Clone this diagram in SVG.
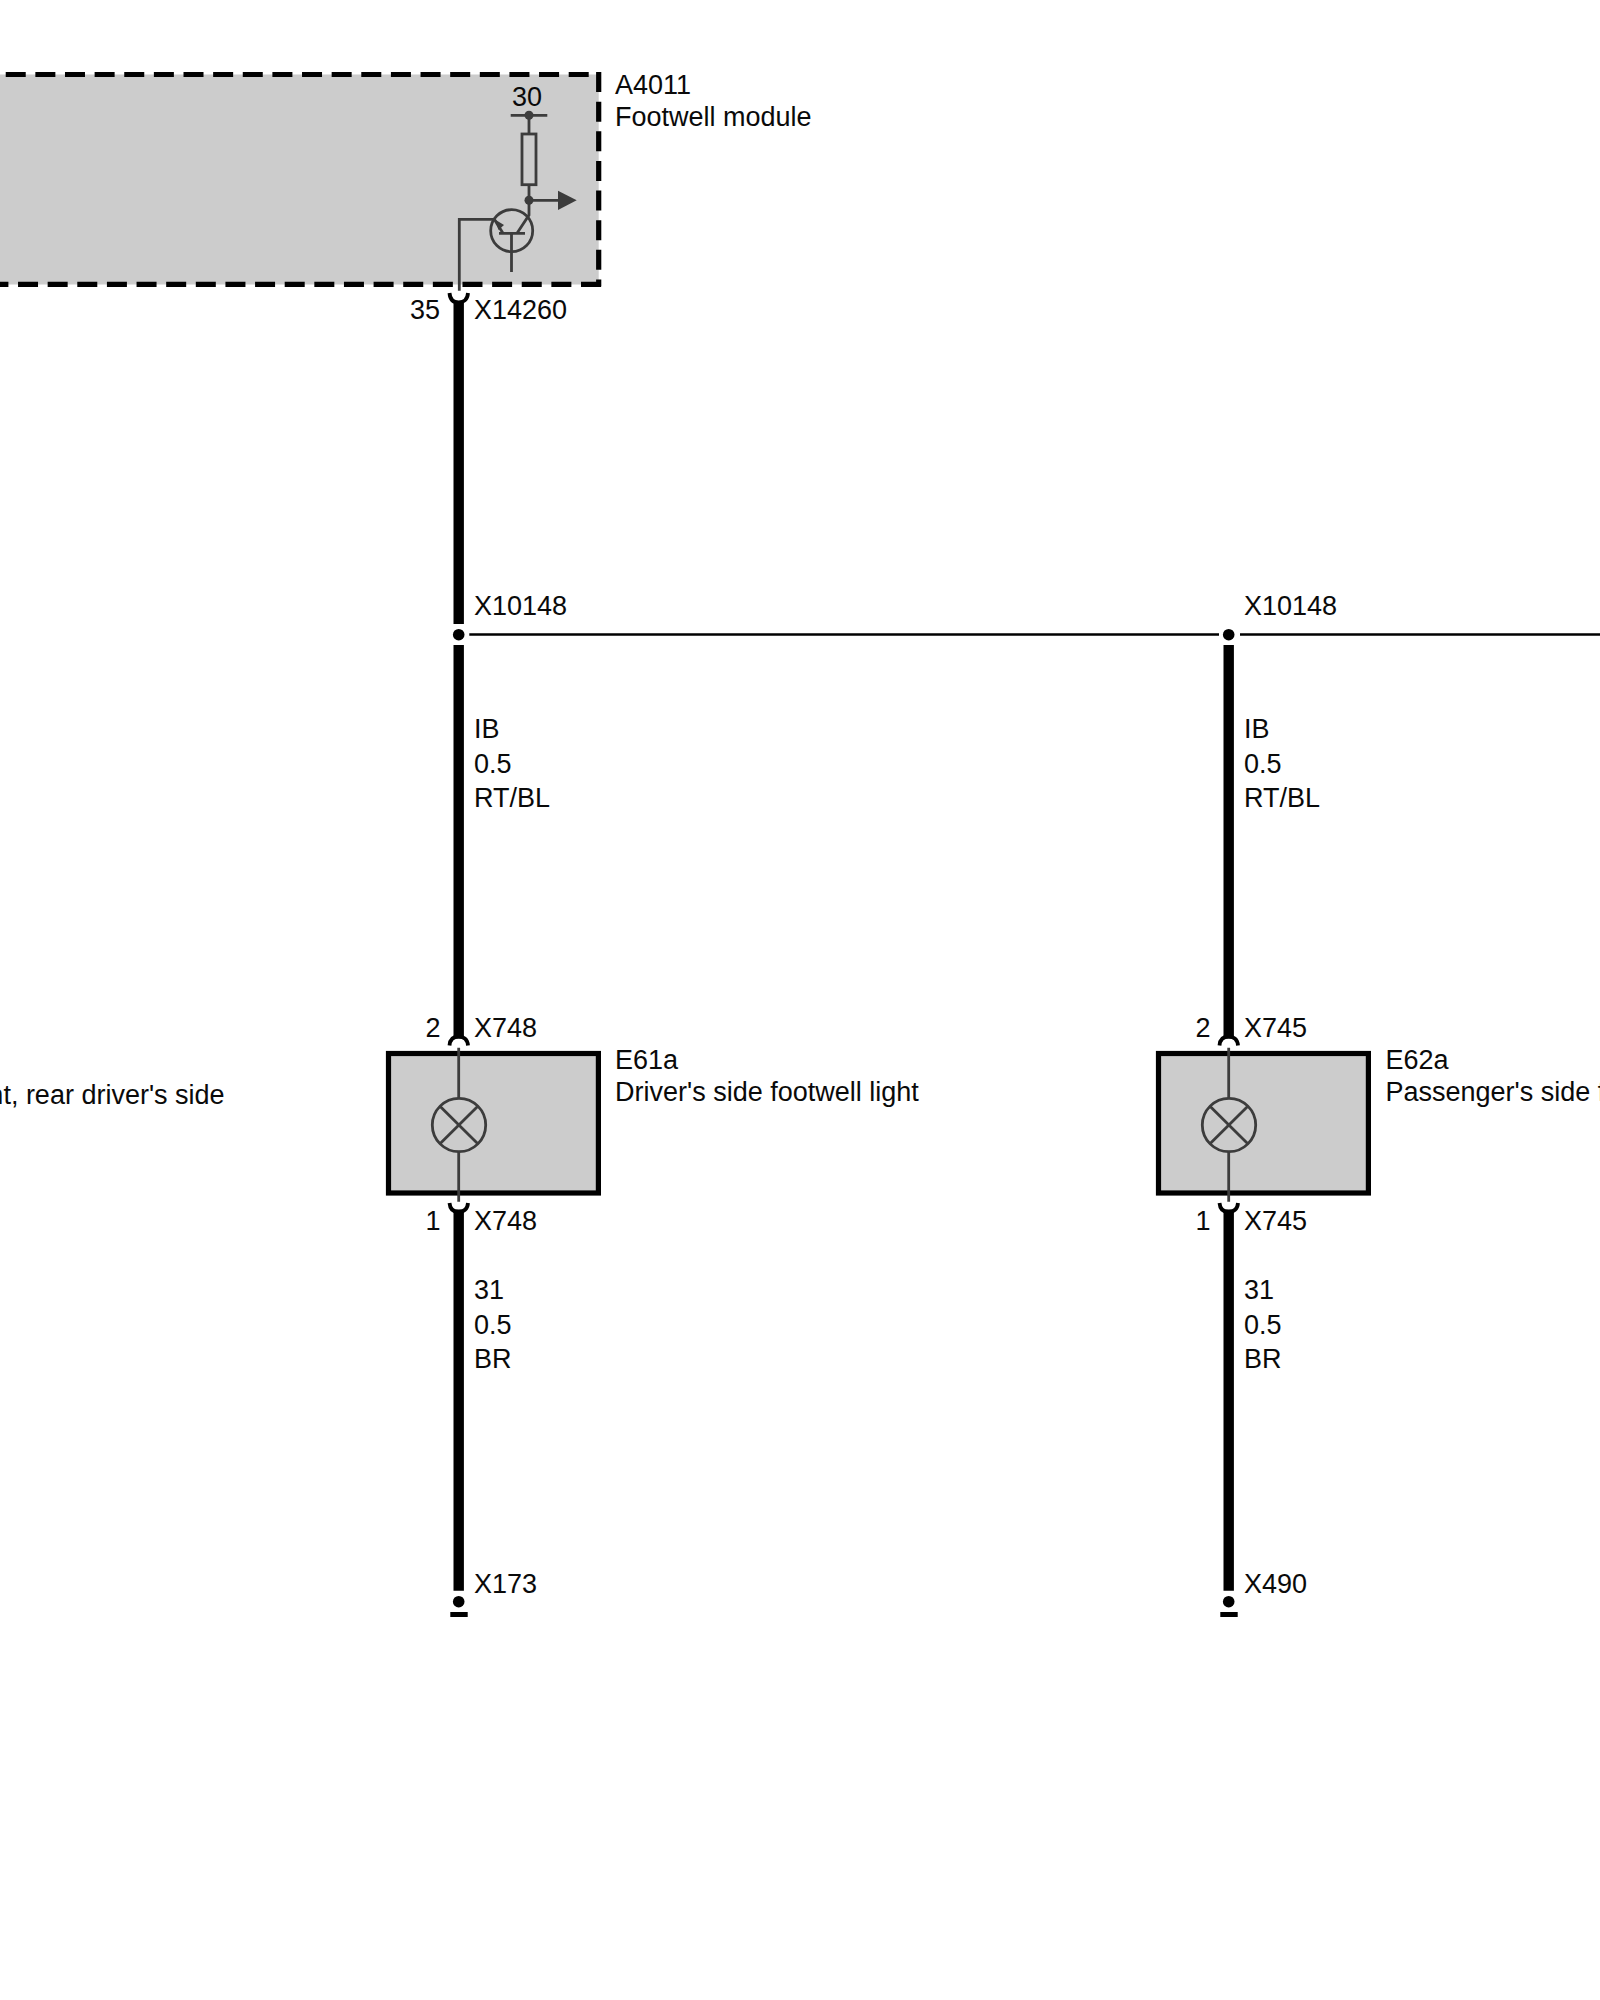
<svg xmlns="http://www.w3.org/2000/svg" width="1600" height="2000" viewBox="0 0 1600 2000">
<style>
text{font-family:"Liberation Sans",Arial,sans-serif;font-size:27px;fill:#0a0a0a}
.wire{stroke:#000;stroke-width:10.4;fill:none}
.cap{stroke:#000;stroke-width:3.8;fill:none}
.sym{stroke:#3c3c3c;stroke-width:2.8;fill:none}
.dashb{stroke:#000;stroke-width:5.2;stroke-dasharray:20 9.63;fill:none}
.box{fill:#ccc;stroke:#000;stroke-width:5.2}
.e{text-anchor:end}
</style>
<rect width="1600" height="2000" fill="#fff"/>
<g id="A4011">
<rect x="0" y="74.5" width="598.7" height="210" fill="#ccc"/>
<path class="dashb" d="M-23.9 74.5H601"/>
<path class="dashb" d="M598.7 72V286.5"/>
<path class="dashb" d="M601 284.3H0"/>
<path class="sym" d="M510.7 115.3H547.3M529 115.3V134M529 184.7V215L517 233.3M499 233.3H525M511.5 233.3V272M558 200.3H529M494.3 219.3H459.3V290.7"/>
<path class="sym" d="M494.3 219.3L503 233.3"/>
<rect class="sym" x="522" y="134" width="14" height="50.7"/>
<circle class="sym" cx="511.7" cy="230.7" r="21"/>
<circle cx="529" cy="115.3" r="4.5" fill="#3c3c3c"/>
<circle cx="529" cy="200.3" r="4.5" fill="#3c3c3c"/>
<path d="M558 190.7L576.7 200.3L558 210Z" fill="#3c3c3c"/>
<path d="M495 219.5L504 225L498.5 230Z" fill="#3c3c3c"/>
<text x="527" y="105.7" text-anchor="middle">30</text>
<text x="615" y="94.3">A4011</text>
<text x="615" y="126.3">Footwell module</text>
</g>
<g id="E61a">
<rect class="box" x="388.5" y="1053.5" width="209.9" height="139.5"/>
<path class="sym" d="M458.7 1047.7V1098.3M458.7 1151.7V1201.7M440 1106.2L477.8 1143.8M477.8 1106.2L440 1143.8"/>
<circle class="sym" cx="459" cy="1125" r="26.7"/>
<text x="615" y="1069.3">E61a</text>
<text x="615" y="1101">Driver's side footwell light</text>
</g>
<g id="E62a">
<rect class="box" x="1158.5" y="1053.5" width="209.9" height="139.5"/>
<path class="sym" d="M1228.7 1047.7V1098.3M1228.7 1151.7V1201.7M1210 1106.2L1247.8 1143.8M1247.8 1106.2L1210 1143.8"/>
<circle class="sym" cx="1229" cy="1125" r="26.7"/>
<text x="1385.5" y="1069.3">E62a</text>
<text x="1385.5" y="1101">Passenger's side f</text>
</g>
<g id="connectors">
<path class="wire" d="M458.7 301V624M458.7 645V1038.5M458.7 1209.5V1590.7"/>
<path class="wire" d="M1228.7 645V1038.5M1228.7 1209.5V1590.7"/>
<path d="M469.3 634.5H1219M1240 634.5H1600" stroke="#000" stroke-width="2.4" fill="none"/>
<path class="cap" d="M449.5 293C450 300 454 302.5 458.7 302.5C463 302.5 467.5 300 468 293"/>
<path class="cap" d="M449.5 1045.5C450 1039 454 1036.5 458.7 1036.5C463 1036.5 467.5 1039 468 1045.5"/>
<path class="cap" d="M449.5 1203C450 1209.5 454 1212 458.7 1212C463 1212 467.5 1209.5 468 1203"/>
<path class="cap" d="M1219.5 1045.5C1220 1039 1224 1036.5 1228.7 1036.5C1233 1036.5 1237.5 1039 1238 1045.5"/>
<path class="cap" d="M1219.5 1203C1220 1209.5 1224 1212 1228.7 1212C1233 1212 1237.5 1209.5 1238 1203"/>
<circle cx="458.7" cy="634.7" r="5.8"/>
<circle cx="1228.7" cy="634.7" r="5.8"/>
<circle cx="458.7" cy="1601.7" r="5.8"/>
<circle cx="1228.7" cy="1601.7" r="5.8"/>
<rect x="450.3" y="1612" width="17.4" height="5"/>
<rect x="1220.3" y="1612" width="17.4" height="5"/>
</g>
<g id="labels">
<text x="410" y="319.3">35</text>
<text x="474" y="319.3">X14260</text>
<text x="474" y="615">X10148</text>
<text x="1244" y="615">X10148</text>
<text x="474" y="738.3">IB</text>
<text x="474" y="772.5">0.5</text>
<text x="474" y="807.3">RT/BL</text>
<text x="1244" y="738.3">IB</text>
<text x="1244" y="772.5">0.5</text>
<text x="1244" y="807.3">RT/BL</text>
<text x="425.5" y="1037.3">2</text>
<text x="474" y="1037.3">X748</text>
<text x="425.5" y="1230">1</text>
<text x="474" y="1230">X748</text>
<text x="1195.5" y="1037.3">2</text>
<text x="1244" y="1037.3">X745</text>
<text x="1195.5" y="1230">1</text>
<text x="1244" y="1230">X745</text>
<text x="474" y="1299.3">31</text>
<text x="474" y="1333.8">0.5</text>
<text x="474" y="1368.3">BR</text>
<text x="1244" y="1299.3">31</text>
<text x="1244" y="1333.8">0.5</text>
<text x="1244" y="1368.3">BR</text>
<text x="474" y="1592.7">X173</text>
<text x="1244" y="1592.7">X490</text>
<text class="e" x="224.6" y="1104">nt, rear driver's side</text>
</g>
</svg>
